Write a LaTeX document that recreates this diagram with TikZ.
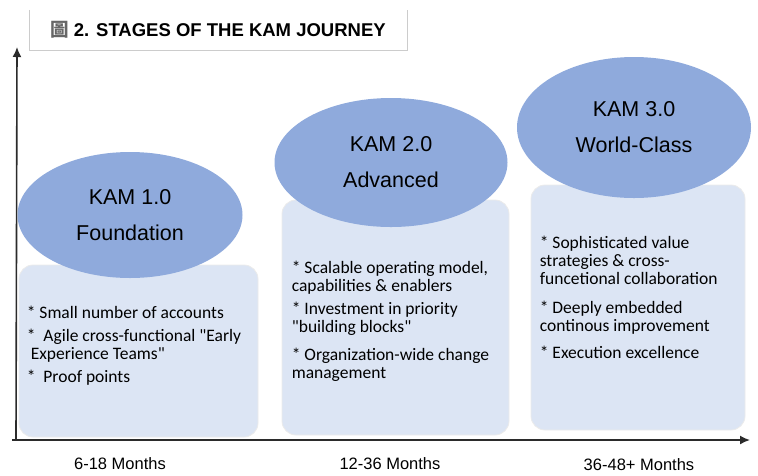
\documentclass[tikz,border=0pt]{standalone}
\usepackage{fontspec}
\setmainfont{Liberation Sans}
\newfontfamily\bodyfont{Carlito}
\newfontfamily\cjk{Noto Sans CJK TC}
\usetikzlibrary{positioning,shapes.geometric,arrows.meta}

\definecolor{stageblue}{HTML}{8FAADC}
\definecolor{panelblue}{HTML}{DCE5F4}
\definecolor{axisgray}{HTML}{2B2B2B}

\begin{document}
\begin{tikzpicture}[x=1pt,y=-1pt,>={Latex[length=10pt,width=9pt]},
    stage/.style={ellipse,fill=stageblue,inner sep=0pt,align=center,
        font=\fontsize{21.5}{36}\selectfont},
    panel/.style={rounded corners=14pt,fill=panelblue,draw=black!8,
        line width=.8pt,inner sep=0pt},
    bullets/.style={align=left,inner sep=0pt,
        font=\bodyfont\fontsize{17.5}{18}\selectfont},
    months/.style={font=\fontsize{16.5}{18}\selectfont}]

    \useasboundingbox (0,0) rectangle (758,475);

    % titre
    \node[font=\bfseries\fontsize{18.5}{20}\selectfont,minimum width=378pt,
        minimum height=40pt,inner sep=0pt] (title) at (218,30)
        {{\cjk\color{black!60}圖} 2. STAGES OF THE KAM JOURNEY};
    \draw[black!20] (title.north west) -- (title.south west)
        -- (title.south east) -- (title.north east);

    % axes
    \coordinate (origin) at (16,440);
    \coordinate (xstart) at (12,440);
    \coordinate (xend) at (750,440);
    \coordinate (yend) at (17,47);
    \draw[->,axisgray,line width=1.6pt] (xstart) -- (xend);
    \draw[->,axisgray,line width=1.6pt] (origin) -- (yend);

    % cadres
    \node[panel,minimum width=239pt,minimum height=172pt] (panel1) at (138.5,351) {};
    \node[panel,minimum width=227pt,minimum height=235pt] (panel2) at (395.5,317.5) {};
    \node[panel,minimum width=214pt,minimum height=245pt] (panel3) at (638,307.5) {};

    % etapes
    \node[stage,minimum width=225pt,minimum height=126pt] (kam1) at (130,215)
        {KAM 1.0\\Foundation};
    \node[stage,minimum width=233pt,minimum height=129pt] (kam2) at (391,162.5)
        {KAM 2.0\\Advanced};
    \node[stage,minimum width=234pt,minimum height=141pt] (kam3) at (634,127.5)
        {KAM 3.0\\World-Class};

    % contenu
    \node[bullets,below right=41pt and 8pt of panel1.north west] (list1)
        {* Small number of accounts\\[5pt]
         *\ \ Agile cross-functional "Early\\
         \ Experience Teams"\\[5pt]
         *\ \ Proof points};
    \node[bullets,below right=61pt and 10pt of panel2.north west] (list2)
        {* Scalable operating model,\\
         capabilities \& enablers\\[5pt]
         * Investment in priority\\
         "building blocks"\\[10pt]
         * Organization-wide change\\
         management};
    \node[bullets,below right=51pt and 9pt of panel3.north west] (list3)
        {* Sophisticated value\\
         strategies \& cross-\\
         funcetional collaboration\\[11pt]
         * Deeply embedded\\
         continous improvement\\[9pt]
         * Execution excellence};

    % durees
    \node[months] (m1) at (120,464) {6-18 Months};
    \node[months] (m2) at (390,464) {12-36 Months};
    \node[months] (m3) at (639,465) {36-48+ Months};

\end{tikzpicture}
\end{document}
